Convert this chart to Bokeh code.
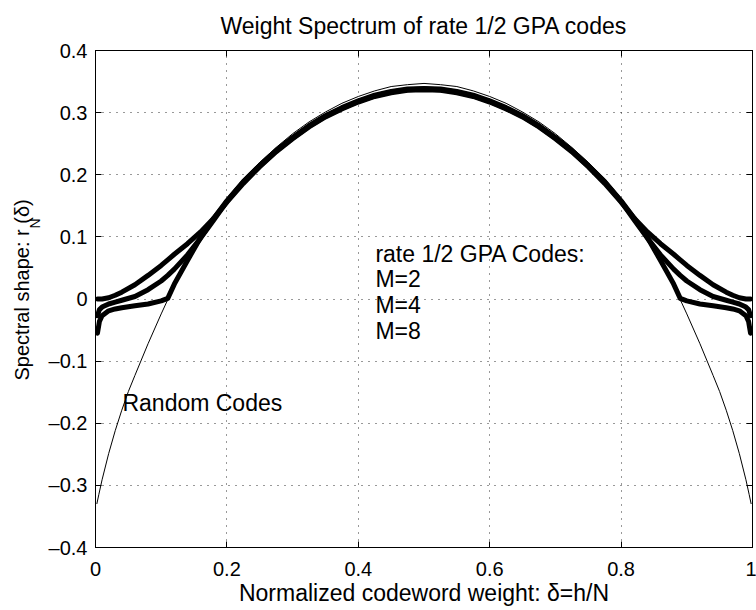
from bokeh.plotting import figure
from bokeh.models import Label, LinearAxis, FixedTicker, Range1d, Title
from bokeh.embed import file_html
from bokeh.resources import INLINE

# ---------------- data ----------------
delta_random = [0.002, 0.005, 0.01, 0.02, 0.03, 0.04, 0.05, 0.06, 0.08, 0.10,
                0.12, 0.14, 0.16, 0.18, 0.20, 0.225, 0.25, 0.275, 0.30, 0.325,
                0.35, 0.375, 0.40, 0.425, 0.45, 0.475, 0.50,
                0.525, 0.55, 0.575, 0.60, 0.625, 0.65, 0.675, 0.70, 0.725,
                0.75, 0.775, 0.80, 0.82, 0.84, 0.86, 0.88, 0.90, 0.92, 0.94,
                0.95, 0.96, 0.97, 0.98, 0.99, 0.995, 0.998]
r_random = [-0.330, -0.315, -0.291, -0.249, -0.212, -0.179, -0.149, -0.123, -0.072, -0.024,
            0.022, 0.064, 0.100, 0.133, 0.162, 0.193, 0.220, 0.244, 0.266, 0.285,
            0.301, 0.315, 0.326, 0.335, 0.342, 0.345, 0.347,
            0.345, 0.342, 0.335, 0.326, 0.315, 0.301, 0.285, 0.266, 0.244,
            0.220, 0.193, 0.162, 0.133, 0.100, 0.064, 0.022, -0.024, -0.072, -0.123,
            -0.149, -0.179, -0.212, -0.249, -0.291, -0.315, -0.330]

delta_gpa = [0.003, 0.006, 0.01, 0.02, 0.03, 0.04, 0.06, 0.08, 0.10, 0.11,
             0.12, 0.14, 0.16, 0.18, 0.20, 0.225, 0.25, 0.275, 0.30, 0.325,
             0.35, 0.375, 0.40, 0.425, 0.45, 0.475, 0.50,
             0.525, 0.55, 0.575, 0.60, 0.625, 0.65, 0.675, 0.70, 0.725,
             0.75, 0.775, 0.80, 0.82, 0.84, 0.86, 0.88, 0.89, 0.90, 0.92,
             0.94, 0.96, 0.97, 0.98, 0.99, 0.994, 0.997]
r_m2 = [0.000, 0.000, 0.000, 0.002, 0.006, 0.011, 0.023, 0.038, 0.054, 0.063,
        0.072, 0.089, 0.108, 0.130, 0.156, 0.186, 0.213, 0.237, 0.258, 0.277,
        0.293, 0.306, 0.317, 0.326, 0.332, 0.336, 0.337,
        0.336, 0.332, 0.326, 0.317, 0.306, 0.293, 0.277, 0.258, 0.237,
        0.213, 0.186, 0.156, 0.130, 0.108, 0.089, 0.072, 0.063, 0.054, 0.038,
        0.023, 0.011, 0.006, 0.002, 0.000, 0.000, 0.000]
r_m4 = [-0.027, -0.017, -0.013, -0.008, -0.005, -0.002, 0.004, 0.015, 0.029, 0.038,
        0.048, 0.071, 0.098, 0.127, 0.157, 0.188, 0.214, 0.238, 0.259, 0.278,
        0.294, 0.307, 0.318, 0.327, 0.333, 0.337, 0.338,
        0.337, 0.333, 0.327, 0.318, 0.307, 0.294, 0.278, 0.259, 0.238,
        0.214, 0.188, 0.157, 0.127, 0.098, 0.071, 0.048, 0.038, 0.029, 0.015,
        0.004, -0.002, -0.005, -0.008, -0.013, -0.017, -0.027]
r_m8 = [-0.055, -0.036, -0.027, -0.019, -0.016, -0.014, -0.011, -0.008, -0.003, 0.001,
        0.024, 0.062, 0.099, 0.130, 0.158, 0.189, 0.215, 0.239, 0.260, 0.279,
        0.295, 0.308, 0.319, 0.328, 0.334, 0.338, 0.339,
        0.338, 0.334, 0.328, 0.319, 0.308, 0.295, 0.279, 0.260, 0.239,
        0.215, 0.189, 0.158, 0.130, 0.099, 0.062, 0.024, 0.001, -0.003, -0.008,
        -0.011, -0.014, -0.016, -0.019, -0.027, -0.036, -0.055]

x_ticks = [0, 0.2, 0.4, 0.6, 0.8, 1.0]
x_tick_labels = ["0", "0.2", "0.4", "0.6", "0.8", "1"]
y_ticks = [-0.4, -0.3, -0.2, -0.1, 0, 0.1, 0.2, 0.3, 0.4]
y_tick_labels = ["\u20130.4", "\u20130.3", "\u20130.2", "\u20130.1", "0", "0.1", "0.2", "0.3", "0.4"]

title_text = "Weight Spectrum of rate 1/2 GPA codes"
xlabel_text = "Normalized codeword weight: \u03b4=h/N"
ylabel_main = "Spectral shape: r  (\u03b4)"
ylabel_sub = "N"
legend_lines = ["rate 1/2 GPA Codes:", "M=2", "M=4", "M=8"]
legend_y = [0.073, 0.032, -0.010, -0.051]
legend_x = 0.426
random_label = "Random Codes"
random_label_xy = (0.041, -0.167)

FONT = "Liberation Sans"

# ---------------- figure ----------------
p = figure(width=756, height=610, output_backend="svg", toolbar_location=None, title=None,
           x_range=Range1d(0, 1), y_range=Range1d(-0.4, 0.4),
           min_border_left=95, min_border_right=4, min_border_top=50, min_border_bottom=63)
p.background_fill_color = "white"
p.border_fill_color = "white"
p.outline_line_color = "black"
p.outline_line_width = 1

for ax, ticks, labels in ((p.xaxis[0], x_ticks, x_tick_labels), (p.yaxis[0], y_ticks, y_tick_labels)):
    ax.ticker = FixedTicker(ticks=ticks)
    ax.major_label_overrides = dict(zip(ticks, labels))
    ax.major_tick_in = 6
    ax.major_tick_out = 0
    ax.minor_tick_line_color = None
    ax.axis_line_color = "black"
    ax.major_tick_line_color = "black"
    ax.major_label_text_font = FONT
    ax.major_label_text_font_size = "20px"
    ax.major_label_text_color = "black"

p.xaxis[0].major_label_standoff = 14
p.yaxis[0].major_label_standoff = 8
p.xaxis[0].axis_label = xlabel_text
p.xaxis[0].axis_label_text_font = FONT
p.xaxis[0].axis_label_text_font_size = "23px"
p.xaxis[0].axis_label_text_font_style = "normal"
p.xaxis[0].axis_label_text_color = "black"
p.xaxis[0].axis_label_standoff = 1

# mirrored ticks on top / right (box on)
top_ax = LinearAxis(ticker=FixedTicker(ticks=x_ticks), major_label_overrides={t: "" for t in x_ticks},
                    major_tick_in=6, major_tick_out=0, minor_tick_line_color=None,
                    major_label_standoff=0, major_label_text_font_size="1px", axis_line_color="black")
right_ax = LinearAxis(ticker=FixedTicker(ticks=y_ticks), major_label_overrides={t: "" for t in y_ticks},
                      major_tick_in=6, major_tick_out=0, minor_tick_line_color=None,
                      major_label_standoff=0, major_label_text_font_size="1px", axis_line_color="black")
p.add_layout(top_ax, "above")
p.add_layout(right_ax, "right")
p.add_layout(Title(text=title_text, align="center", vertical_align="top", text_font=FONT,
                   text_font_size="23px", text_font_style="normal", text_color="black",
                   standoff=20), "above")

# y label: subscript panel (inner) then main text panel (outer)
p.add_layout(Title(text=ylabel_sub, align="left", offset=319, standoff=6, text_font=FONT,
                   text_font_size="14px", text_font_style="normal", text_color="black"), "left")
p.add_layout(Title(text=ylabel_main, align="left", offset=167, standoff=-22, text_font=FONT,
                   text_font_size="20px", text_font_style="normal", text_color="black"), "left")

for g in (p.xgrid[0], p.ygrid[0]):
    g.grid_line_color = "black"
    g.grid_line_alpha = 0.8
    g.grid_line_dash = "1 6"
    g.grid_line_width = 1
p.xgrid[0].ticker = FixedTicker(ticks=x_ticks)
p.ygrid[0].ticker = FixedTicker(ticks=y_ticks)

# ---------------- curves ----------------
for ys in (r_m2, r_m4, r_m8):
    p.line(delta_gpa, ys, line_color="black", line_width=5, line_join="round", line_cap="round")
p.line(delta_random, r_random, line_color="black", line_width=1)

# ---------------- in-plot texts ----------------
for txt, yy in zip(legend_lines, legend_y):
    p.add_layout(Label(x=legend_x, y=yy, text=txt, text_font=FONT, text_font_size="23px",
                       text_baseline="middle", text_align="left", text_color="black"))
p.add_layout(Label(x=random_label_xy[0], y=random_label_xy[1], text=random_label, text_font=FONT,
                   text_font_size="23px", text_baseline="middle", text_align="left", text_color="black"))

open("out.html", "w").write(file_html(p, INLINE))
